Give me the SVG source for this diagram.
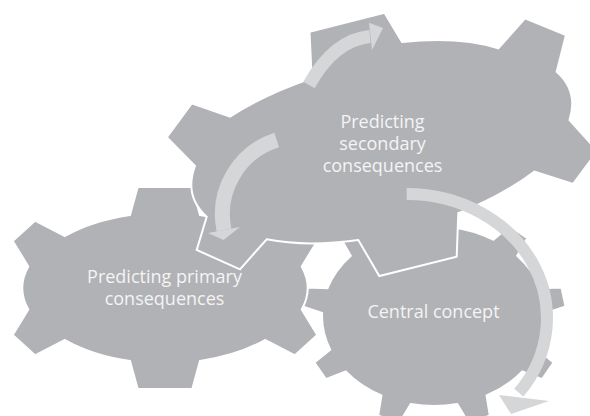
<svg xmlns="http://www.w3.org/2000/svg" width="590" height="416" viewBox="0 0 590 416">
  <style>
    .gear { fill: #b1b2b5; stroke: #ffffff; stroke-width: 2; stroke-linejoin: miter; }
    .band { fill: none; stroke: #d5d6d8; stroke-linecap: butt; }
    .head { fill: #d5d6d8; }
    .label { font-family: "Open Sans", "Liberation Sans", sans-serif; font-size: 18px; fill: #f4f4f4; text-anchor: middle; }
  </style>
  <rect width="590" height="416" fill="#ffffff"/>

  <!-- nine-tooth gear, drawn first so the others overlap it -->
  <g id="central-concept">
    <path class="gear" d="M418.4,226.9 L422.5,206.4 L445.5,206.4 L449.6,226.9 A112,90 0 0 1 493.3,239.7 L509.7,225.9 L527.3,238.2 L517.2,255.8 A112,90 0 0 1 540.5,288.2 L561.5,287.5 L565.5,306.4 L545.9,312.9 A112,90 0 0 1 537.8,349.7 L553.6,362.5 L542.1,379.1 L522.3,371.4 A112,90 0 0 1 486.6,395.5 L489.8,415.7 L468.2,422.2 L457.3,404 A112,90 0 0 1 410.7,404 L399.8,422.2 L378.2,415.7 L381.4,395.5 A112,90 0 0 1 345.7,371.4 L325.9,379.1 L314.4,362.5 L330.2,349.7 A112,90 0 0 1 322.1,312.9 L302.5,306.4 L306.5,287.5 L327.5,288.2 A112,90 0 0 1 350.8,255.8 L340.7,238.2 L358.3,225.9 L374.7,239.7 A112,90 0 0 1 418.4,226.9 Z"/>
    <text class="label" x="433.5" y="318">Central concept</text>
  </g>

  <!-- six-tooth gear, bottom left -->
  <g id="primary-consequences">
    <path class="gear" d="M130,215 L137.7,187 L192.3,187 L200,215 A141,75 0 0 1 265,236 L295,220.7 L317.3,241 L301.7,266.5 A141,75 0 0 1 301.7,309.5 L317.3,335 L295,355.3 L265,340 A141,75 0 0 1 200,361 L192.3,389 L137.7,389 L130,361 A141,75 0 0 1 65,340 L35,355.3 L12.7,335 L28.3,309.5 A141,75 0 0 1 28.3,266.5 L12.7,241 L35,220.7 L65,236 A141,75 0 0 1 130,215 Z"/>
    <text class="label" x="164.5" y="283">Predicting primary</text>
    <text class="label" x="164.5" y="305">consequences</text>
  </g>

  <!-- six-tooth gear, tilted, on top -->
  <g id="secondary-consequences">
    <path class="gear" d="M311.7,78.3 L309.5,31.7 L384.5,12.7 L402,42 A195,88 -16 0 1 498.3,48.3 L525,18.3 L566,35 L556.7,71.7 A195,88 -16 0 1 569.5,120 L597.5,151 L573,184 L534.5,171.5 A195,88 -16 0 1 458.3,213.3 L456.7,256.7 L379.3,276 L358.3,240 A195,88 -16 0 1 266.7,239.3 L240,269.3 L196.7,250 L206.7,216.7 A195,88 -16 0 1 195,166 L166.7,137.3 L191.7,103.3 L230,116.7 A195,88 -16 0 1 311.7,78.3 Z"/>
    <text class="label" x="382.5" y="127.5">Predicting</text>
    <text class="label" x="382.5" y="149.5">secondary</text>
    <text class="label" x="382.5" y="172">consequences</text>
  </g>

  <!-- curved arrows -->
  <g id="connectors">
    <path class="band" stroke-width="13" d="M309,85 Q334,40 370,36.5"/>
    <polygon class="head" points="369,22.7 383,28 372,50"/>
    <path class="band" stroke-width="15" d="M276.7,140 A78,78 0 0 0 224,230"/>
    <polygon class="head" points="208,233 223.5,240 240,227"/>
    <path class="band" stroke-width="12" d="M406.7,194 A140,124 0 0 1 518.8,392.6"/>
    <polygon class="head" points="499,395 511,414 549,401"/>
  </g>
</svg>
